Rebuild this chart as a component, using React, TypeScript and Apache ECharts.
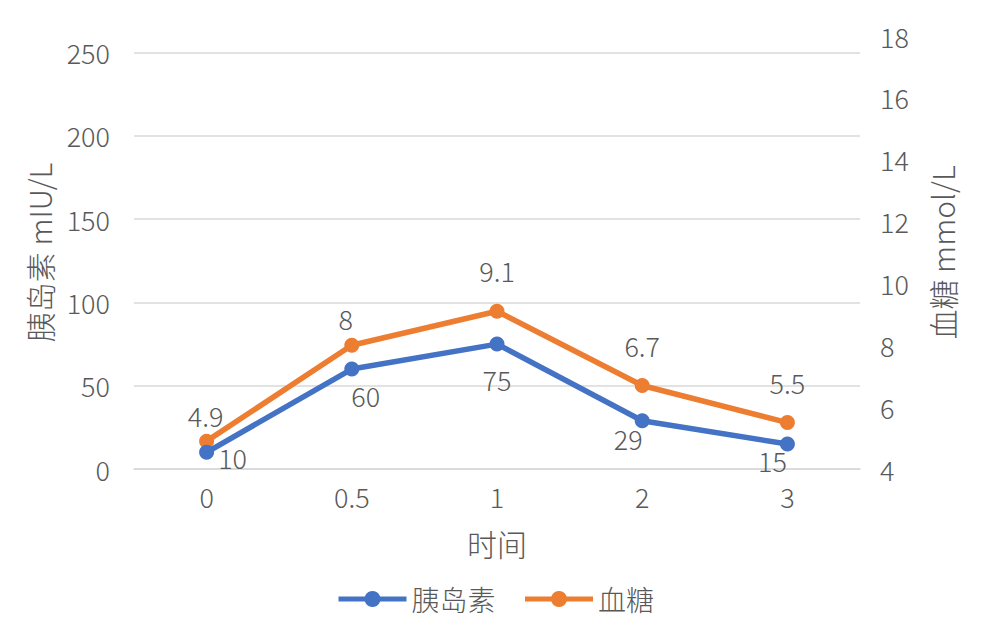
import React, { useEffect, useRef } from "react";
import * as echarts from "echarts";

const categories = ["0", "0.5", "1", "2", "3"];
const insulin = [10, 60, 75, 29, 15];
const glucose = [4.9, 8, 9.1, 6.7, 5.5];
const insulinName = "胰岛素";
const glucoseName = "血糖";
const leftAxisName = "胰岛素 mIU/L";
const rightAxisName = "血糖 mmol/L";
const xAxisName = "时间";

// label offsets (styling, relative to the point centre)
const insulinLabelOffsets: number[][] = [[26, 5], [14, 26], [0, 35], [-14, 18], [-15, 16]];
const glucoseLabelOffsets: number[][] = [[-1, -26], [-6, -27], [0, -41], [0, -40], [0, -40]];

const FONT = "'Noto Sans CJK SC', 'Noto Sans', sans-serif";
const TEXT = "#595959";
const GRID = "#d9d9d9";
const BLUE = "#4472C4";
const ORANGE = "#ED7D31";
const NUM_SIZE = 27;
const TITLE_SIZE = 30;

export default function App() {
  const ref = useRef<HTMLDivElement>(null);
  useEffect(() => {
    if (!ref.current) return;
    const chart = echarts.init(ref.current, undefined, { renderer: "svg" });
    const mkData = (vals: number[], offs: number[][]) =>
      vals.map((v, i) => ({
        value: v,
        label: { offset: offs[i] },
      }));
    const numStyle = { color: TEXT, fontSize: NUM_SIZE, fontFamily: FONT, fontWeight: 300 };
    const titleStyle = { fontFamily: FONT, color: TEXT, fontSize: TITLE_SIZE, fontWeight: 300 };
    chart.setOption({
      animation: false,
      textStyle: { fontFamily: FONT, color: TEXT },
      grid: { left: 134, right: 130, top: 36, bottom: 172 },
      legend: {
        bottom: 23,
        left: "center",
        itemWidth: 68,
        itemHeight: 20,
        itemGap: 27,
        lineStyle: { width: 5 },
        textStyle: { fontFamily: FONT, color: TEXT, fontSize: 28, fontWeight: 300 },
        data: [insulinName, glucoseName],
      },
      xAxis: {
        type: "category",
        data: categories,
        name: xAxisName,
        nameLocation: "middle",
        nameGap: 59,
        nameTextStyle: titleStyle,
        axisLine: { lineStyle: { color: GRID, width: 1.5 } },
        axisTick: { show: false },
        axisLabel: { ...numStyle, margin: 14 },
      },
      yAxis: [
        {
          type: "value",
          min: 0,
          max: 260,
          interval: 50,
          name: leftAxisName,
          nameLocation: "middle",
          nameGap: 80,
          nameTextStyle: titleStyle,
          axisLine: { show: false },
          axisTick: { show: false },
          axisLabel: {
            ...numStyle,
            margin: 24,
            formatter: (v: number) => (v % 50 === 0 ? String(v) : ""),
          },
          splitLine: {
            show: true,
            lineStyle: {
              width: 1.5,
              color: [GRID, GRID, GRID, GRID, GRID, GRID, "rgba(0,0,0,0)"],
            },
          },
        },
        {
          type: "value",
          min: 4,
          max: 18,
          interval: 2,
          name: rightAxisName,
          nameLocation: "middle",
          nameGap: 67,
          nameRotate: 90,
          nameTextStyle: titleStyle,
          axisLine: { show: false },
          axisTick: { show: false },
          axisLabel: { ...numStyle, margin: 20 },
          splitLine: { show: false },
        },
      ],
      series: [
        {
          name: insulinName,
          type: "line",
          yAxisIndex: 0,
          data: mkData(insulin, insulinLabelOffsets),
          symbol: "circle",
          symbolSize: 15,
          color: BLUE,
          lineStyle: { color: BLUE, width: 5.5 },
          itemStyle: { color: BLUE },
          label: { show: true, position: "inside", ...numStyle },
          z: 3,
        },
        {
          name: glucoseName,
          type: "line",
          yAxisIndex: 1,
          data: mkData(glucose, glucoseLabelOffsets),
          symbol: "circle",
          symbolSize: 15,
          color: ORANGE,
          lineStyle: { color: ORANGE, width: 5.5 },
          itemStyle: { color: ORANGE },
          label: { show: true, position: "inside", ...numStyle },
          z: 2,
        },
      ],
    });
    return () => chart.dispose();
  }, []);
  return (
    <div
      ref={ref}
      style={{ position: "absolute", left: 0, top: 0, width: 990, height: 641, background: "#fff" }}
    />
  );
}
